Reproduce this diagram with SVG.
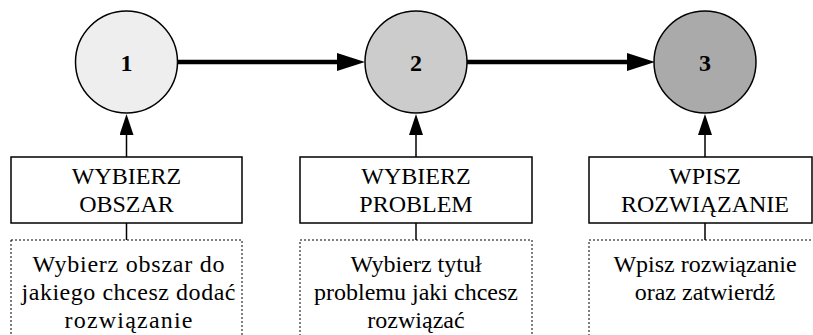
<svg xmlns="http://www.w3.org/2000/svg" width="813" height="335" viewBox="0 0 813 335">
  <style>
    .circ { stroke: #000; stroke-width: 1.5; }
    .box { fill: #fff; stroke: #000; stroke-width: 1.5; }
    .dbox { fill: #fff; stroke: #000; stroke-width: 1; stroke-dasharray: 2 2; }
    .thick { stroke: #000; stroke-width: 4.5; fill: none; }
    .thin { stroke: #000; stroke-width: 1.5; fill: none; }
    .num { font-family: 'Liberation Serif', 'Times New Roman', serif; font-size: 24px; font-weight: bold; text-anchor: middle; fill: #000; }
    .lbl { font-family: 'Liberation Serif', 'Times New Roman', serif; font-size: 24px; text-anchor: middle; fill: #000; }
  </style>
  <defs>
    <marker id="headBig" viewBox="0 0 28 18" markerWidth="28" markerHeight="18" refX="0" refY="9" orient="auto" markerUnits="userSpaceOnUse">
      <path d="M0,0 L28,9 L0,18 z" fill="#000"/>
    </marker>
    <marker id="headSmall" viewBox="0 0 21 14" markerWidth="21" markerHeight="14" refX="0" refY="7" orient="auto" markerUnits="userSpaceOnUse">
      <path d="M0,0 L21,7 L0,14 z" fill="#000"/>
    </marker>
  </defs>
  <rect width="813" height="335" fill="#fff"/>

  <g id="connectors">
    <line class="thick" x1="177.5" y1="62" x2="337" y2="62" marker-end="url(#headBig)"/>
    <line class="thick" x1="467" y1="62" x2="627" y2="62" marker-end="url(#headBig)"/>
    <line class="thin" x1="126.5" y1="157" x2="126.5" y2="135" marker-end="url(#headSmall)"/>
    <line class="thin" x1="416" y1="157" x2="416" y2="135" marker-end="url(#headSmall)"/>
    <line class="thin" x1="705" y1="157" x2="705" y2="135" marker-end="url(#headSmall)"/>
    <line class="thin" x1="126.5" y1="223" x2="126.5" y2="240"/>
    <line class="thin" x1="416" y1="223" x2="416" y2="240"/>
    <line class="thin" x1="705" y1="223" x2="705" y2="240"/>
  </g>

  <g id="node-1">
    <circle class="circ" cx="126.5" cy="62" r="51" fill="#eeeeee"/>
    <text class="num" x="126.5" y="70.5">1</text>
  </g>
  <g id="node-2">
    <circle class="circ" cx="416" cy="62" r="51" fill="#cccccc"/>
    <text class="num" x="416" y="70.5">2</text>
  </g>
  <g id="node-3">
    <circle class="circ" cx="705" cy="62" r="51" fill="#aaaaaa"/>
    <text class="num" x="705" y="70.5">3</text>
  </g>

  <g id="box-1">
    <rect class="box" x="11" y="157" width="231" height="66"/>
    <text class="lbl" x="126.5" y="183.5">WYBIERZ</text>
    <text class="lbl" x="126.5" y="212">OBSZAR</text>
  </g>
  <g id="box-2">
    <rect class="box" x="300" y="157" width="232" height="66"/>
    <text class="lbl" x="416" y="183.5">WYBIERZ</text>
    <text class="lbl" x="416" y="212">PROBLEM</text>
  </g>
  <g id="box-3">
    <rect class="box" x="589" y="157" width="223" height="66"/>
    <text class="lbl" x="705" y="183.5">WPISZ</text>
    <text class="lbl" x="705" y="212">ROZWIĄZANIE</text>
  </g>

  <g id="desc-1">
    <rect class="dbox" x="11" y="240" width="231" height="110"/>
    <text class="lbl" x="128.5" y="272" textLength="192">Wybierz obszar do</text>
    <text class="lbl" x="128.5" y="300" textLength="214">jakiego chcesz dodać</text>
    <text class="lbl" x="128.5" y="328" textLength="128">rozwiązanie</text>
  </g>
  <g id="desc-2">
    <rect class="dbox" x="300" y="240" width="232" height="110"/>
    <text class="lbl" x="416" y="272">Wybierz tytuł</text>
    <text class="lbl" x="416" y="300">problemu jaki chcesz</text>
    <text class="lbl" x="416" y="328">rozwiązać</text>
  </g>
  <g id="desc-3">
    <rect class="dbox" x="589" y="240" width="240" height="110"/>
    <text class="lbl" x="705" y="272">Wpisz rozwiązanie</text>
    <text class="lbl" x="705" y="300">oraz zatwierdź</text>
  </g>
</svg>
